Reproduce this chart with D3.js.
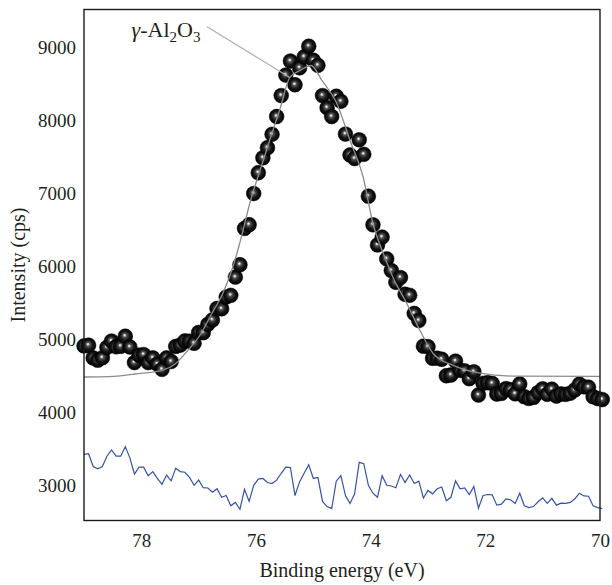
<!DOCTYPE html>
<html>
<head>
<meta charset="utf-8">
<script src="https://cdn.jsdelivr.net/npm/d3@7"></script>
<style>
body { margin: 0; background: #fff; }
text { font-family: "Liberation Serif", "Times New Roman", serif; fill: #231f20; }
</style>
</head>
<body>
<div id="chart"></div>
<script>
// XPS scan grid (eV), measured counts, residual trace (offset to ~3000)
var energy = [79.00, 78.92, 78.84, 78.76, 78.68, 78.60, 78.52, 78.44, 78.36, 78.28,
    78.20, 78.12, 78.04, 77.96, 77.88, 77.80, 77.72, 77.64, 77.56, 77.48,
    77.40, 77.32, 77.24, 77.16, 77.08, 77.00, 76.92, 76.84, 76.76, 76.68,
    76.60, 76.52, 76.44, 76.36, 76.28, 76.20, 76.12, 76.04, 75.96, 75.88,
    75.80, 75.72, 75.64, 75.56, 75.48, 75.40, 75.32, 75.24, 75.16, 75.08,
    75.00, 74.92, 74.84, 74.76, 74.68, 74.60, 74.52, 74.44, 74.36, 74.28,
    74.20, 74.12, 74.04, 73.96, 73.88, 73.80, 73.72, 73.64, 73.56, 73.48,
    73.40, 73.32, 73.24, 73.16, 73.08, 73.00, 72.92, 72.84, 72.76, 72.68,
    72.60, 72.52, 72.44, 72.36, 72.28, 72.20, 72.12, 72.04, 71.96, 71.88,
    71.80, 71.72, 71.64, 71.56, 71.48, 71.40, 71.32, 71.24, 71.16, 71.08,
    71.00, 70.92, 70.84, 70.76, 70.68, 70.60, 70.52, 70.44, 70.36, 70.28,
    70.20, 70.12, 70.04, 69.96]

var intensity = [4911, 4921, 4747, 4716, 4749, 4891, 4978, 4900, 4907, 5044,
    4897, 4683, 4785, 4793, 4683, 4748, 4662, 4590, 4747, 4698,
    4905, 4923, 4980, 4976, 4947, 5096, 5093, 5207, 5267, 5425,
    5420, 5581, 5604, 5854, 6024, 6521, 6572, 6999, 7284, 7488,
    7626, 7810, 8054, 8341, 8622, 8814, 8489, 8721, 8871, 9017,
    8825, 8755, 8341, 8175, 8053, 8332, 8262, 7814, 7527, 7478,
    7735, 7536, 6963, 6571, 6295, 6402, 6104, 5944, 5782, 5848,
    5619, 5605, 5357, 5259, 4908, 4900, 4741, 4743, 4729, 4503,
    4513, 4704, 4578, 4570, 4463, 4557, 4239, 4399, 4408, 4398,
    4252, 4261, 4327, 4312, 4256, 4391, 4216, 4192, 4206, 4272,
    4324, 4249, 4319, 4225, 4253, 4248, 4262, 4309, 4388, 4351,
    4346, 4215, 4191, 4177]

var residual = [3425, 3434, 3260, 3228, 3260, 3401, 3486, 3401, 3401, 3532,
    3378, 3157, 3251, 3251, 3134, 3190, 3096, 3016, 3143, 3063,
    3237, 3190, 3181, 3110, 3002, 3073, 2969, 2965, 2908, 2955,
    2838, 2862, 2721, 2768, 2674, 2946, 2782, 3002, 3087, 3096,
    3040, 3026, 3073, 3167, 3251, 3246, 2862, 3049, 3167, 3284,
    3096, 3110, 2782, 2711, 2683, 3059, 3134, 2862, 2754, 2885,
    3317, 3298, 3002, 2894, 2838, 3134, 3002, 2993, 2969, 3152,
    3040, 3143, 3026, 3059, 2829, 2932, 2885, 2955, 2979, 2791,
    2838, 3063, 2955, 2965, 2876, 2988, 2688, 2862, 2876, 2871,
    2730, 2744, 2815, 2805, 2754, 2894, 2721, 2697, 2711, 2777,
    2829, 2754, 2824, 2730, 2758, 2754, 2768, 2815, 2894, 2857,
    2852, 2721, 2697, 2683]

// fitted envelope
var fitEnergy = [79.00, 78.55, 78.11, 77.64, 77.41, 77.19, 76.98, 76.77, 76.58, 76.40,
    76.28, 76.08, 75.97, 75.76, 75.58, 75.41, 75.23, 75.04, 74.85, 74.59,
    74.36, 74.13, 73.96, 73.78, 73.61, 73.37, 73.14, 72.91, 72.56, 72.09,
    71.45, 70.00]
var fitIntensity = [4486, 4490, 4527, 4575, 4664, 4849, 5054, 5356, 5630, 6000,
    6330, 6945, 7219, 7733, 8161, 8589, 8685, 8753, 8548, 8233,
    7726, 7219, 6589, 6178, 5849, 5493, 5123, 4808, 4644, 4538,
    4497, 4493]

var xTicks = [78, 76, 74, 72, 70]
var yTicks = [3000, 4000, 5000, 6000, 7000, 8000, 9000]

var labelPos = [78.17, 9150]
var leaderFrom = [76.86, 9288]
var leaderTo = [75.41, 8589]

var serif = '"Liberation Serif", "Times New Roman", serif'
var width = 612, height = 585
var plotLeft = 84, plotRight = 600, plotTop = 9.5, plotBottom = 520.5

var svg = d3.select("#chart").append("svg")
    .attr("width", width)
    .attr("height", height)

var x = d3.scaleLinear().domain([79, 70]).range([plotLeft, plotRight])
var y = d3.scaleLinear().domain([2520, 9520]).range([plotBottom, plotTop])

var defs = svg.append("defs")
var grad = defs.append("radialGradient")
    .attr("id", "ball")
    .attr("cx", 0.5).attr("cy", 0.5).attr("r", 0.5)
    .attr("fx", 0.45).attr("fy", 0.42)
grad.append("stop").attr("offset", "0%").attr("stop-color", "#ffffff")
grad.append("stop").attr("offset", "11%").attr("stop-color", "#cccccc")
grad.append("stop").attr("offset", "26%").attr("stop-color", "#555555")
grad.append("stop").attr("offset", "58%").attr("stop-color", "#1a1a1a")
grad.append("stop").attr("offset", "100%").attr("stop-color", "#000000")

// residual trace
svg.append("path")
    .datum(residual)
    .attr("fill", "none")
    .attr("stroke", "#3553a8")
    .attr("stroke-width", 1.2)
    .attr("d", d3.line()
        .x((d, i) => x(energy[i]))
        .y((d) => y(d)))

// measured points
svg.append("g").selectAll("circle")
    .data(intensity)
    .enter()
    .append("circle")
    .attr("cx", (d, i) => x(energy[i]))
    .attr("cy", (d) => y(d))
    .attr("r", 7.4)
    .attr("fill", "url(#ball)")
    .attr("stroke", "#000")
    .attr("stroke-width", 0.5)

// fit
svg.append("path")
    .datum(fitIntensity)
    .attr("fill", "none")
    .attr("stroke", "#8c8c8c")
    .attr("stroke-width", 1.3)
    .attr("d", d3.line()
        .curve(d3.curveMonotoneX)
        .x((d, i) => x(fitEnergy[i]))
        .y((d) => y(d)))

// annotation
svg.append("line")
    .attr("x1", x(leaderFrom[0])).attr("y1", y(leaderFrom[1]))
    .attr("x2", x(leaderTo[0])).attr("y2", y(leaderTo[1]))
    .attr("stroke", "#b0b0b0")
    .attr("stroke-width", 1.2)

var lab = svg.append("text")
    .attr("x", x(labelPos[0]))
    .attr("y", y(labelPos[1]))
    .attr("font-size", 22)
lab.append("tspan").attr("font-style", "italic").text("γ")
lab.append("tspan").text("-Al")
lab.append("tspan").attr("font-size", 15).attr("dy", 5).text("2")
lab.append("tspan").attr("dy", -5).text("O")
lab.append("tspan").attr("font-size", 15).attr("dy", 5).text("3")

// frame
svg.append("rect")
    .attr("x", plotLeft).attr("y", plotTop)
    .attr("width", plotRight - plotLeft).attr("height", plotBottom - plotTop)
    .attr("fill", "none")
    .attr("stroke", "#1a1a1a")
    .attr("stroke-width", 1.4)

// axes
var xAxis = svg.append("g")
    .attr("transform", "translate(0," + plotBottom + ")")
    .call(d3.axisBottom(x).tickValues(xTicks).tickSize(0).tickPadding(13).tickFormat(d3.format("d")))
xAxis.select(".domain").remove()
xAxis.selectAll("text")
    .style("font-family", serif)
    .style("font-size", "19px")
    .attr("fill", "#231f20")

var yAxis = svg.append("g")
    .attr("transform", "translate(" + plotLeft + ",0)")
    .call(d3.axisLeft(y).tickValues(yTicks).tickSize(0).tickPadding(8).tickFormat(d3.format("d")))
yAxis.select(".domain").remove()
yAxis.selectAll("text")
    .style("font-family", serif)
    .style("font-size", "19px")
    .attr("fill", "#231f20")

svg.append("text")
    .attr("x", (plotLeft + plotRight) / 2)
    .attr("y", 577)
    .attr("text-anchor", "middle")
    .attr("font-size", 20)
    .text("Binding energy (eV)")

svg.append("text")
    .attr("transform", "translate(25," + ((plotTop + plotBottom) / 2) + ") rotate(-90)")
    .attr("text-anchor", "middle")
    .attr("font-size", 20)
    .text("Intensity (cps)")
</script>
</body>
</html>
